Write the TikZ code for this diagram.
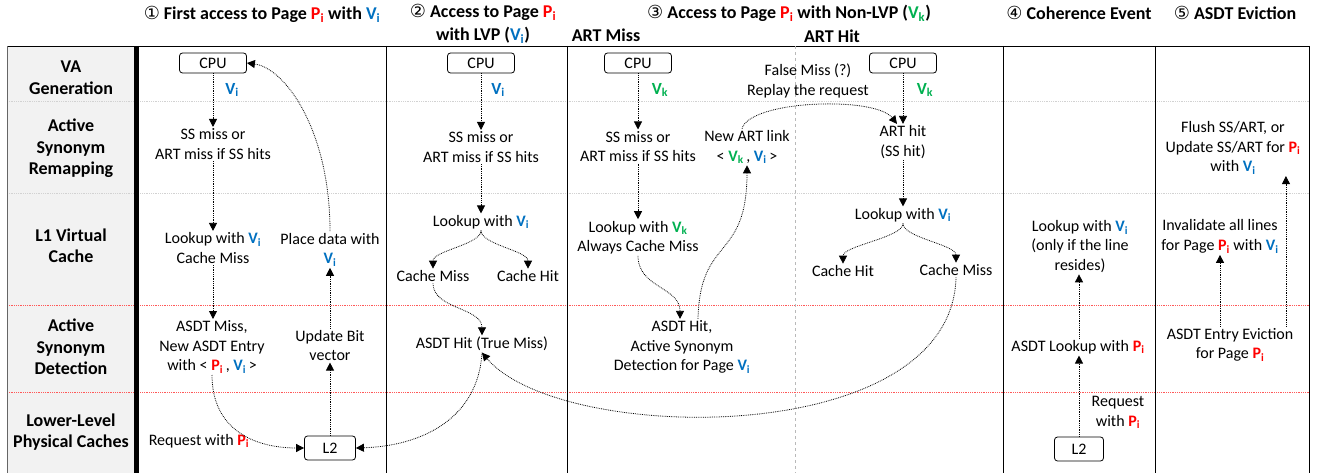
\documentclass[tikz,border=0pt]{standalone}
\usepackage{fontspec}
\setmainfont{Carlito}
\newfontfamily\circfont{DejaVu Sans}
\usetikzlibrary{arrows.meta,calc}
\definecolor{cred}{HTML}{FF0000}
\definecolor{cblue}{HTML}{0070C0}
\definecolor{cgreen}{HTML}{00B050}
\definecolor{lblgray}{HTML}{F2F2F2}
\newcommand{\Pv}{\textcolor{cred}{\textbf{P\textsubscript{i}}}}
\newcommand{\Vi}{\textcolor{cblue}{\textbf{V\textsubscript{i}}}}
\newcommand{\Vk}{\textcolor{cgreen}{\textbf{V\textsubscript{k}}}}
\begin{document}
\begin{tikzpicture}[x=1pt,y=-1pt,
  txt/.style={font=\fontsize{16}{19.5}\selectfont, align=center, inner sep=1.5pt},
  ttl/.style={font=\bfseries\fontsize{18}{23}\selectfont, align=center, inner sep=0pt},
  lbl/.style={font=\bfseries\fontsize{18}{21.5}\selectfont, align=center, inner sep=0pt},
  vlab/.style={font=\fontsize{17}{20}\selectfont, inner sep=0pt},
  boxnode/.style={draw, rounded corners=3pt, minimum width=67pt, minimum height=20pt, inner sep=0pt, font=\fontsize{16}{19}\selectfont, line width=0.8pt},
  arr/.style={densely dotted, line width=0.8pt, -{Triangle[length=8pt,width=8pt]}},
  rowsep/.style={gray!35, densely dotted, line width=0.8pt},
  redsep/.style={red!65, densely dotted, line width=0.8pt}
]
\useasboundingbox (0,0) rectangle (1328,473);
% table
\fill[lblgray] (7,46) rectangle (136,473);
\draw[rowsep] (7,101) -- (1309,101);
\draw[rowsep] (7,193) -- (1309,193);
\draw[redsep] (7,305) -- (1309,305);
\draw[redsep] (7,392) -- (1309,392);
\draw[line width=0.8pt] (7,46) -- (1309,46);
\draw[line width=0.8pt, gray!80!black] (7,46) -- (7,473);
\draw[line width=5pt] (136,46) -- (136,473);
\draw[line width=0.8pt] (386,46) -- (386,473);
\draw[line width=0.8pt] (567,46) -- (567,473);
\draw[gray!55, dashed, line width=0.8pt] (795,46) -- (795,473);
\draw[line width=0.8pt] (1003,46) -- (1003,473);
\draw[line width=0.8pt] (1155,46) -- (1155,473);
\draw[line width=0.8pt] (1309,46) -- (1309,473);

% titles
\node[ttl] (t1) at (262,14) {{\circfont\mdseries ①} First access to Page \Pv{} with \Vi};
\node[ttl] (t2) at (483,23.5) {{\circfont\mdseries ②} Access to Page \Pv\\with LVP (\Vi)};
\node[ttl] (t3) at (789,13) {{\circfont\mdseries ③} Access to Page \Pv{} with Non-LVP (\Vk)};
\node[ttl] (t3a) at (606,35) {ART Miss};
\node[ttl] (t3b) at (832,36) {ART Hit};
\node[ttl] (t4) at (1079,13) {{\circfont\mdseries ④} Coherence Event};
\node[ttl] (t5) at (1235,13) {{\circfont\mdseries ⑤} ASDT Eviction};

% row labels
\node[lbl] (rl1) at (71,77.5) {VA\\Generation};
\node[lbl] (rl2) at (71,148.5) {Active\\Synonym\\Remapping};
\node[lbl] (rl3) at (71,246) {L1 Virtual\\Cache};
\node[lbl] (rl4) at (71,347) {Active\\Synonym\\Detection};
\node[lbl] (rl5) at (71,432) {Lower-Level\\Physical Caches};

% column 1
\node[boxnode] (cpu1) at (213,63) {CPU};
\node[vlab] (v1) at (232,90) {\Vi};
\node[txt] (ss1) at (213,144) {SS miss or\\ART miss if SS hits};
\node[txt] (lk1) at (213,248) {Lookup with \Vi\\Cache Miss};
\node[txt] (am1) at (212,347) {ASDT Miss,\\New ASDT Entry\\with < \Pv\,, \Vi\,>};
\node[txt] (pd1) at (330,249.5) {Place data with\\\Vi};
\node[txt] (ub1) at (330,345.5) {Update Bit\\vector};
\node[boxnode, minimum width=51pt, minimum height=24pt] (l2a) at (330,448) {L2};
\node[txt] (rq1) at (199,441) {Request with \Pv};

\draw[arr] (cpu1.south) -- (cpu1.south |- ss1.north);
\draw[arr] (ss1.south) -- (ss1.south |- lk1.north);
\draw[arr] (lk1.south) -- (lk1.south |- am1.north);
\draw[arr] (am1.south) .. controls (212,430) and (255,448) .. (l2a.west);
\draw[arr] (l2a.north) -- (l2a.north |- ub1.south);
\draw[arr] (ub1.north) -- (ub1.north |- pd1.south);
\draw[arr] (pd1.north) .. controls (330,130) and (285,68) .. (cpu1.east);

% column 2
\node[boxnode] (cpu2) at (481,63) {CPU};
\node[vlab] (v2) at (498,90) {\Vi};
\node[txt] (ss2) at (481,147) {SS miss or\\ART miss if SS hits};
\node[txt] (lk2) at (481,222) {Lookup with \Vi};
\node[txt] (cm2) at (433,276) {Cache Miss};
\node[txt] (ch2) at (528,276) {Cache Hit};
\node[txt] (ah2) at (482,344) {ASDT Hit (True Miss)};

\draw[arr] (cpu2.south) -- (cpu2.south |- ss2.north);
\draw[arr] (ss2.south) -- (ss2.south |- lk2.north);
\draw[arr] (lk2.south) .. controls +(0,14) and +(0,-18) .. (cm2.north);
\draw[arr] (lk2.south) .. controls +(0,14) and +(0,-18) .. (ch2.north);
\draw[arr] (cm2.south) .. controls +(0,26) and +(0,-28) .. (ah2.north);
\draw[arr] (ah2.south) .. controls (478,420) and (420,446) .. (l2a.east);

% column 3 left
\node[boxnode] (cpu3) at (638,63) {CPU};
\node[vlab] (v3) at (660,90) {\Vk};
\node[txt] (ss3) at (638,146.5) {SS miss or\\ART miss if SS hits};
\node[txt] (lk3) at (638,237.5) {Lookup with \Vk\\Always Cache Miss};
\node[txt] (ah3) at (682,347) {ASDT Hit,\\Active Synonym\\Detection for Page \Vi};
\node[txt] (nal) at (747,147) {New ART link\\< \Vk\,, \Vi\,>};
\node[txt] (fm) at (808,81) {False Miss (?)\\Replay the request};

% column 3 right
\node[boxnode] (cpu4) at (903,63) {CPU};
\node[vlab] (v4) at (925,90) {\Vk};
\node[txt] (ah4) at (903,142) {ART hit\\(SS hit)};
\node[txt] (lk4) at (903,215) {Lookup with \Vi};
\node[txt] (ch4) at (843,271) {Cache Hit};
\node[txt] (cm4) at (956,270) {Cache Miss};

\draw[arr] (cpu3.south) -- (cpu3.south |- ss3.north);
\draw[arr] (ss3.south) -- (ss3.south |- lk3.north);
\draw[arr] (lk3.south) .. controls +(0,32) and +(0,-32) .. ([xshift=-2pt]ah3.north);
\draw[arr] ([xshift=16pt]ah3.north) .. controls (700,235) and (747,262) .. (nal.south);
\draw[arr] ([xshift=-5pt]nal.north) .. controls (750,100) and (875,96) .. ([xshift=-6pt]ah4.north);

\draw[arr] (cpu4.south) -- (cpu4.south |- ah4.north);
\draw[arr] (ah4.south) -- (ah4.south |- lk4.north);
\draw[arr] (lk4.south) .. controls +(0,14) and +(0,-18) .. (ch4.north);
\draw[arr] (lk4.south) .. controls +(0,14) and +(0,-18) .. (cm4.north);
\draw[arr] (cm4.south) .. controls (952,450) and (560,445) .. (ah2.south);

% column 4
\node[txt] (lkc) at (1080,246.5) {Lookup with \Vi\\(only if the line\\resides)};
\node[txt] (asl) at (1078,347) {ASDT Lookup with \Pv};
\node[boxnode, minimum width=49pt, minimum height=24pt] (l2b) at (1079,449) {L2};
\node[txt] (rqc) at (1118,412.5) {Request\\with \Pv};

\draw[arr] (l2b.north) -- (l2b.north |- asl.south);
\draw[arr] (asl.north -| l2b.north) -- (l2b.north |- lkc.south);

% column 5
\node[txt] (fl) at (1233,148) {Flush SS/ART, or\\Update SS/ART for \Pv\\with \Vi};
\node[txt] (inv) at (1220,236.5) {Invalidate all lines\\for Page \Pv{} with \Vi};
\node[txt] (aee) at (1230,345) {ASDT Entry Eviction\\for Page \Pv};

\draw[arr] (inv.south |- aee.north) -- (inv.south);
\draw[arr] ([xshift=-9pt]aee.north east) -- ([xshift=-9pt]aee.north east |- fl.south);
\end{tikzpicture}
\end{document}
